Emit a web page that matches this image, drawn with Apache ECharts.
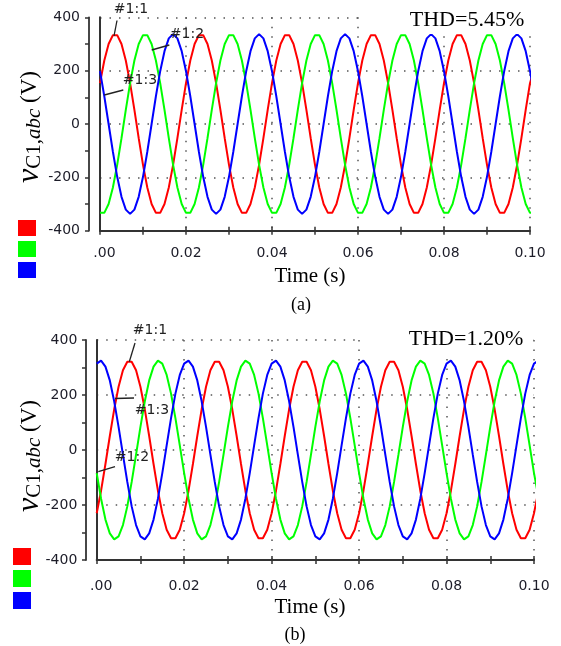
<!DOCTYPE html>
<html><head><meta charset="utf-8">
<script src="https://cdn.jsdelivr.net/npm/echarts@6/dist/echarts.min.js"></script>
<style>html,body{margin:0;padding:0;background:#fff}#c{width:561px;height:646px}</style>
</head><body><div id="c"></div>
<script>
// time samples (s)
const time = [0,0.001,0.002,0.003,0.004,0.005,0.006,0.007,0.008,0.009,0.010,0.011,0.012,0.013,0.014,0.015,0.016,0.017,0.018,0.019,
0.020,0.021,0.022,0.023,0.024,0.025,0.026,0.027,0.028,0.029,0.030,0.031,0.032,0.033,0.034,0.035,0.036,0.037,0.038,0.039,
0.040,0.041,0.042,0.043,0.044,0.045,0.046,0.047,0.048,0.049,0.050,0.051,0.052,0.053,0.054,0.055,0.056,0.057,0.058,0.059,
0.060,0.061,0.062,0.063,0.064,0.065,0.066,0.067,0.068,0.069,0.070,0.071,0.072,0.073,0.074,0.075,0.076,0.077,0.078,0.079,
0.080,0.081,0.082,0.083,0.084,0.085,0.086,0.087,0.088,0.089,0.090,0.091,0.092,0.093,0.094,0.095,0.096,0.097,0.098,0.099,
0.100,0.101];

// (a) THD=5.45%
const aRed = [153,238,300,333,333,300,238,153,53,-53,-153,-238,-300,-333,-333,-300,-238,-153,-53,53,
153,238,300,333,333,300,238,153,53,-53,-153,-238,-300,-333,-333,-300,-238,-153,-53,53,
153,238,300,333,333,300,238,153,53,-53,-153,-238,-300,-333,-333,-300,-238,-153,-53,53,
153,238,300,333,333,300,238,153,53,-53,-153,-238,-300,-333,-333,-300,-238,-153,-53,53,
153,238,300,333,333,300,238,153,53,-53,-153,-238,-300,-333,-333,-300,-238,-153,-53,53,
153,210];
const aGreen = [-333,-333,-300,-238,-153,-53,53,153,238,300,333,333,300,238,153,53,-53,-153,-238,-300,
-333,-333,-300,-238,-153,-53,53,153,238,300,333,333,300,238,153,53,-53,-153,-238,-300,
-333,-333,-300,-238,-153,-53,53,153,238,300,333,333,300,238,153,53,-53,-153,-238,-300,
-333,-333,-300,-238,-153,-53,53,153,238,300,333,333,300,238,153,53,-53,-153,-238,-300,
-333,-333,-300,-238,-153,-53,53,153,238,300,333,333,300,238,153,53,-53,-153,-238,-300,
-333,-333];
const aBlue = [198,104,0,-104,-198,-273,-321,-337,-321,-273,-198,-104,0,104,198,273,321,337,321,273,
198,104,0,-104,-198,-273,-321,-337,-321,-273,-198,-104,0,104,198,273,321,337,321,273,
198,104,0,-104,-198,-273,-321,-337,-321,-273,-198,-104,0,104,198,273,321,337,321,273,
198,104,0,-104,-198,-273,-321,-337,-321,-273,-198,-104,0,104,198,273,321,337,321,273,
198,104,0,-104,-198,-273,-321,-337,-321,-273,-198,-104,0,104,198,273,321,337,321,273,
198,110];

// (b) THD=1.20%
const bRed = [-230,-148,-51,51,148,230,290,321,321,290,230,148,51,-51,-148,-230,-290,-321,-321,-290,
-230,-148,-51,51,148,230,290,321,321,290,230,148,51,-51,-148,-230,-290,-321,-321,-290,
-230,-148,-51,51,148,230,290,321,321,290,230,148,51,-51,-148,-230,-290,-321,-321,-290,
-230,-148,-51,51,148,230,290,321,321,290,230,148,51,-51,-148,-230,-290,-321,-321,-290,
-230,-148,-51,51,148,230,290,321,321,290,230,148,51,-51,-148,-230,-290,-321,-321,-290,
-230,-150];
const bGreen = [-84,-177,-253,-303,-325,-314,-273,-205,-116,-17,84,177,253,303,325,314,273,205,116,17,
-84,-177,-253,-303,-325,-314,-273,-205,-116,-17,84,177,253,303,325,314,273,205,116,17,
-84,-177,-253,-303,-325,-314,-273,-205,-116,-17,84,177,253,303,325,314,273,205,116,17,
-84,-177,-253,-303,-325,-314,-273,-205,-116,-17,84,177,253,303,325,314,273,205,116,17,
-84,-177,-253,-303,-325,-314,-273,-205,-116,-17,84,177,253,303,325,314,273,205,116,17,
-84,-170];
const bBlue = [314,325,303,253,177,84,-17,-116,-205,-273,-314,-325,-303,-253,-177,-84,17,116,205,273,
314,325,303,253,177,84,-17,-116,-205,-273,-314,-325,-303,-253,-177,-84,17,116,205,273,
314,325,303,253,177,84,-17,-116,-205,-273,-314,-325,-303,-253,-177,-84,17,116,205,273,
314,325,303,253,177,84,-17,-116,-205,-273,-314,-325,-303,-253,-177,-84,17,116,205,273,
314,325,303,253,177,84,-17,-116,-205,-273,-314,-325,-303,-253,-177,-84,17,116,205,273,
314,325];

const seriesNames = ['#1:1','#1:2','#1:3'];
const seriesColors = ['#ff0000','#00ff00','#0000ff'];
const yMin = -400, yMax = 400, yStep = 200;
const xMin = 0, xMax = 0.10, xStep = 0.02;
const thdLabels = ['THD=5.45%','THD=1.20%'];
const panelLabels = ['(a)','(b)'];

const SANS = 'DejaVu Sans', SERIF = 'Liberation Serif';
const AX = '#333';
const LBL = '#1c1c28';
const LFS = 14;

const grids = [
  {left:100, top:17.3, width:430, height:213.4},
  {left:100, top:17.3, width:430, height:213.4},
  {left:96.7, top:340, width:437.3, height:220},
  {left:96.7, top:340, width:437.3, height:220}
];

function xMain(g, margin){
  return {type:'value', gridIndex:g, min:xMin, max:xMax, interval:xStep,
    axisLine:{show:true, onZero:false, lineStyle:{color:AX, width:2}},
    axisTick:{show:true, inside:false, length:4, lineStyle:{color:AX, width:1.5}},
    minorTick:{show:true, splitNumber:2, length:4, lineStyle:{color:AX, width:1.5}},
    axisLabel:{margin:margin, fontFamily:SANS, fontSize:LFS, color:LBL,
      formatter: v => v === 0 ? '{c|.00}' : v.toFixed(2),
      rich:{c:{fontFamily:SANS, fontSize:LFS, color:LBL, padding:[0,0,0,9]}}},
    splitLine:{show:true, lineStyle:{color:'#555', width:1.5, type:[1.5,8]}}
  };
}
function xOver(g){
  return {type:'value', gridIndex:g, min:xMin, max:xMax, interval:xStep,
    axisLine:{show:false, onZero:false},
    axisTick:{show:true, inside:true, length:4, lineStyle:{color:AX, width:1.5}},
    minorTick:{show:true, splitNumber:2, length:4, lineStyle:{color:AX, width:1.5}},
    axisLabel:{show:false}, splitLine:{show:false}};
}
function yMain(g, off, margin){
  return {type:'value', gridIndex:g, min:yMin, max:yMax, interval:yStep, offset:off,
    axisLine:{show:true, onZero:false, lineStyle:{color:AX, width:1.8}},
    axisTick:{show:true, inside:false, length:4, lineStyle:{color:AX, width:1.5}},
    minorTick:{show:true, splitNumber:2, length:4, lineStyle:{color:AX, width:1.5}},
    axisLabel:{margin:margin, fontFamily:SANS, fontSize:LFS, color:LBL},
    splitLine:{show:true, lineStyle:{color:'#555', width:1.5, type:[1.5,8]}}
  };
}
function yOver(g){
  return {type:'value', gridIndex:g, min:yMin, max:yMax, interval:yStep,
    axisLine:{show:true, onZero:false, lineStyle:{color:'#333', width:2}},
    axisTick:{show:false}, axisLabel:{show:false}, splitLine:{show:false}};
}

function mk(name, color, vals, axisIdx){
  return {type:'line', name:name, xAxisIndex:axisIdx, yAxisIndex:axisIdx,
    data: time.map((t,i)=>[t, vals[i]]), showSymbol:false, clip:false,
    lineStyle:{color:color, width:2}, itemStyle:{color:color},
    emphasis:{disabled:true}, z:3};
}

function txt(x,y,text,font,size,fill){
  return {type:'text', x:x, y:y, z:100,
    style:{text:text, fontFamily:font, fontSize:size, fill:fill||'#000', align:'center', verticalAlign:'middle'}};
}
function ln(x1,y1,x2,y2){
  return {type:'line', z:100, shape:{x1:x1,y1:y1,x2:x2,y2:y2}, style:{stroke:'#222', lineWidth:1.3}};
}
function yTitle(x,y){
  return {type:'text', x:x, y:y, rotation:Math.PI/2, z:100,
    style:{text:'{v|v}{s|C1,}{i|abc}{n| (V)}', align:'center', verticalAlign:'middle', fill:'#000',
      rich:{
        v:{fontFamily:SERIF, fontStyle:'italic', fontSize:32, lineHeight:30, verticalAlign:'middle'},
        s:{fontFamily:SERIF, fontSize:21, lineHeight:20, verticalAlign:'bottom'},
        i:{fontFamily:SERIF, fontStyle:'italic', fontSize:21, lineHeight:20, verticalAlign:'bottom'},
        n:{fontFamily:SERIF, fontSize:23, lineHeight:24, verticalAlign:'middle'}
      }}};
}

const graphic = [
  {type:'rect', z:99, shape:{x:361, y:5, width:170, height:29}, style:{fill:'#fff'}},
  txt(467, 20, thdLabels[0], SERIF, 22),
  txt(310, 276, 'Time (s)', SERIF, 21),
  txt(301, 305, panelLabels[0], SERIF, 18),
  yTitle(30, 127),
  txt(131, 9, seriesNames[0], SANS, 14, '#222'),
  txt(187, 34, seriesNames[1], SANS, 14, '#222'),
  txt(140, 80, seriesNames[2], SANS, 14, '#222'),
  ln(117,20.5,114,36), ln(151.7,50,169.3,45), ln(104.3,95,123.3,90),

  {type:'rect', z:99, shape:{x:361, y:325, width:172, height:29}, style:{fill:'#fff'}},
  txt(466, 339, thdLabels[1], SERIF, 22),
  txt(310, 607, 'Time (s)', SERIF, 21),
  txt(295, 635, panelLabels[1], SERIF, 18),
  yTitle(30, 456),
  txt(150, 330, seriesNames[0], SANS, 14, '#222'),
  txt(152, 410, seriesNames[2], SANS, 14, '#222'),
  txt(132, 457, seriesNames[1], SANS, 14, '#222'),
  ln(135,343,129.3,361.7), ln(115,398.5,134,398), ln(98.3,471.7,115,466.7)
];

const chart = echarts.init(document.getElementById('c'), null, {renderer:'canvas'});
chart.setOption({
  animation:false,
  backgroundColor:'#fff',
  grid: grids,
  xAxis:[xMain(0,16), xOver(1), xMain(2,19), xOver(3)],
  yAxis:[yMain(0,11,9), yOver(1), yMain(2,10.7,8.7), yOver(3)],
  legend:[
    {left:18, top:220, padding:0, orient:'vertical', itemWidth:18, itemHeight:16, itemGap:5, icon:'rect',
     data:seriesNames, formatter:()=>'', selectedMode:false, textStyle:{fontSize:1}},
    {left:13, top:548, padding:0, orient:'vertical', itemWidth:18, itemHeight:17, itemGap:5, icon:'rect',
     data:seriesNames, formatter:()=>'', selectedMode:false, textStyle:{fontSize:1}}
  ],
  series:[
    mk(seriesNames[0], seriesColors[0], aRed, 0),
    mk(seriesNames[1], seriesColors[1], aGreen, 0),
    mk(seriesNames[2], seriesColors[2], aBlue, 0),
    mk(seriesNames[0], seriesColors[0], bRed, 2),
    mk(seriesNames[1], seriesColors[1], bGreen, 2),
    mk(seriesNames[2], seriesColors[2], bBlue, 2)
  ],
  graphic: graphic
});
</script></body></html>
